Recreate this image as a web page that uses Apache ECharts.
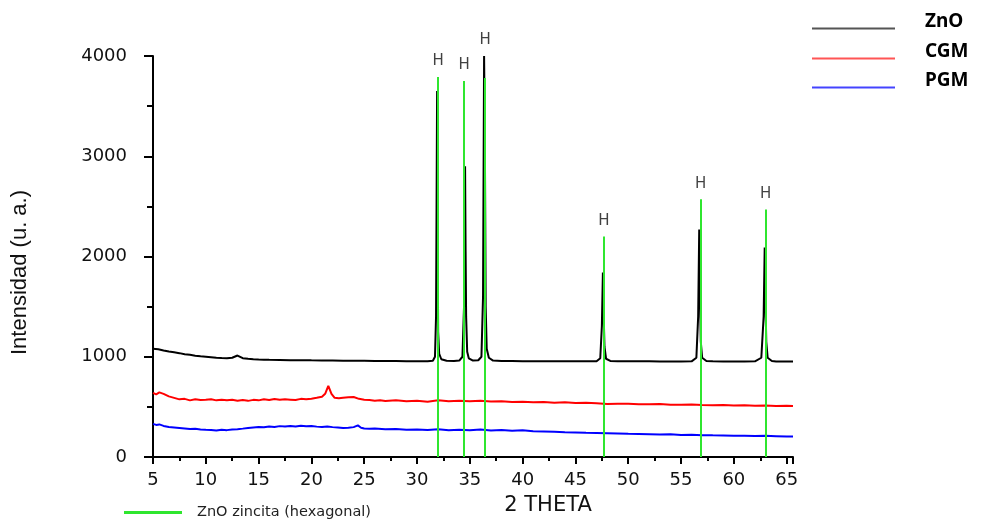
<!DOCTYPE html>
<html>
<head>
<meta charset="utf-8">
<title>DRX ZnO / CGM / PGM</title>
<script src="https://cdn.jsdelivr.net/npm/echarts@6/dist/echarts.min.js"></script>
</head>
<body style="margin:0;background:#fff">
<div id="main" style="width:984px;height:527px;"></div>
<script type="text/javascript">
// 2 theta, intensidad
var zno = [
 [5,1080],[5.5,1075],[6,1062],[6.5,1052],[7,1044],[7.5,1036],[8,1026],[8.5,1019],[9,1011],[9.5,1004],
 [10,1001],[10.5,996],[11,991],[11.5,987],[12,985],[12.5,990],[13,1012],[13.5,986],[14,979],[14.5,975],
 [15,972],[15.5,971],[16,969],[17,968],[18,966],[19,966],[20,964],[21,963],[22,962],[23,961],
 [24,960],[25,959],[26,958],[27,958],[28,957],[29,956],[30,956],[31,956],[31.5,960],[31.7,1000],
 [31.8,1400],[31.85,2500],[31.9,3650],[31.95,2300],[32.0,1250],[32.1,1030],[32.3,975],[32.8,960],[33.5,958],[34.0,962],
 [34.3,1000],[34.45,1500],[34.55,2900],[34.6,2050],[34.65,1400],[34.75,1050],[34.9,985],[35.3,962],[35.8,965],[36.1,1000],
 [36.25,1600],[36.35,4000],[36.42,3230],[36.5,1500],[36.6,1080],[36.8,990],[37.2,962],[38,958],[39,957],[40,956],
 [41,955],[42,955],[43,955],[44,954],[45,954],[46,954],[47,955],[47.35,985],[47.5,1300],[47.6,1840],
 [47.68,1390],[47.75,1100],[47.9,980],[48.3,958],[49,955],[50,955],[51,954],[52,956],[53,953],[54,953],
 [55,953],[56,954],[56.45,990],[56.62,1400],[56.72,2270],[56.8,1600],[56.87,1150],[57.0,990],[57.4,958],[58,954],
 [59,953],[60,953],[61,953],[62,954],[62.6,990],[62.82,1400],[62.92,2090],[63.0,1520],[63.07,1150],[63.2,990],
 [63.6,958],[64,953],[65,952],[65.6,952]
];
var cgm = [
 [5,640],[5.3,625],[5.6,645],[6,630],[6.5,605],[7,590],[7.5,575],[8,580],[8.5,565],[9,575],
 [9.5,568],[10,570],[10.5,575],[11,565],[11.5,572],[12,566],[12.5,570],[13,562],[13.5,568],[14,560],
 [14.5,570],[15,565],[15.5,575],[16,568],[16.5,578],[17,570],[17.5,575],[18,572],[18.5,568],[19,580],
 [19.5,575],[20,582],[20.5,590],[21,600],[21.3,630],[21.6,710],[21.9,630],[22.2,590],[22.6,585],[23,590],
 [23.5,595],[24,598],[24.5,580],[25,572],[25.5,568],[26,562],[26.5,566],[27,558],[28,565],[29,556],
 [30,560],[31,552],[32,565],[33,556],[34,560],[35,555],[36,562],[37,553],[38,556],[39,548],
 [40,552],[41,545],[42,548],[43,540],[44,545],[45,538],[46,540],[47,535],[48,528],[49,532],
 [50,530],[51,527],[52,525],[53,528],[54,522],[55,520],[56,523],[57,518],[58,515],[59,518],
 [60,513],[61,515],[62,510],[63,514],[64,508],[65,510],[65.6,508]
];
var pgm = [
 [5,330],[5.3,320],[5.6,325],[6,310],[6.5,300],[7,295],[7.5,290],[8,285],[8.5,280],[9,282],
 [9.5,275],[10,272],[10.5,270],[11,265],[11.5,272],[12,268],[12.5,275],[13,278],[13.5,283],[14,290],
 [14.5,295],[15,300],[15.5,296],[16,305],[16.5,300],[17,308],[17.5,304],[18,310],[18.5,305],[19,312],
 [19.5,306],[20,310],[20.5,303],[21,300],[21.5,305],[22,298],[22.5,295],[23,290],[23.5,292],[24,298],
 [24.4,315],[24.7,292],[25,285],[25.5,282],[26,285],[27,278],[28,280],[29,272],[30,275],[31,270],
 [32,276],[33,268],[34,272],[35,268],[36,275],[37,265],[38,270],[39,262],[40,266],[41,258],
 [42,255],[43,252],[44,248],[45,245],[46,242],[47,240],[48,238],[49,235],[50,232],[51,230],
 [52,228],[53,225],[54,226],[55,220],[56,222],[57,218],[58,216],[59,215],[60,213],[61,212],
 [62,210],[63,211],[64,208],[65,205],[65.6,205]
];
// ZnO zincita (hexagonal) reference lines
var refPos = [32.0, 34.45, 36.45, 47.7, 56.85, 63.0];
var refTop = [3790, 3750, 3780, 2200, 2570, 2470];

var seriesNames = ['ZnO', 'CGM', 'PGM'];
var refName = 'ZnO zincita (hexagonal)';
var colors = ['#000000', '#ff0000', '#0000ff'];
var legendColors = ['#555555', '#ff5555', '#4444ff'];
var green = '#2fe62f';

// "H" marks sit above the reference line or the ZnO peak, whichever is higher
var hMarks = refPos.map(function (p, i) {
    var top = refTop[i];
    zno.forEach(function (d) {
        if (Math.abs(d[0] - p) < 0.5 && d[1] > top) top = d[1];
    });
    return [p, top];
});

var myChart = echarts.init(document.getElementById('main'));

// legend line drawn below the text middle (tiny dot keeps the box height)
var lowLine = 'path://M0,0h0.01v0.01h-0.01z M0,14h83v2h-83z';
var legendTops = [7, 37, 66];

var legends = seriesNames.map(function (n, i) {
    return {
        data: [{name: n, itemStyle: {color: legendColors[i]}}],
        left: 807,
        top: legendTops[i],
        icon: lowLine,
        itemWidth: 83,
        itemHeight: 16,
        textStyle: {
            fontFamily: 'Noto Sans',
            fontWeight: 'bold',
            fontSize: 19,
            color: '#000',
            padding: [0, 0, 0, 25]
        }
    };
});
legends.push({
    data: [refName],
    left: 119,
    top: 500,
    icon: 'rect',
    itemWidth: 58,
    itemHeight: 3,
    textStyle: {
        fontFamily: 'DejaVu Sans',
        fontSize: 14.5,
        color: '#222',
        padding: [0, 0, 0, 10]
    }
});

var option = {
    animation: false,
    color: colors,
    legend: legends,
    grid: {
        left: 153,
        right: 191,
        top: 56,
        bottom: 70
    },
    xAxis: {
        type: 'value',
        min: 5,
        max: 65.6,
        interval: 5,
        name: '2 THETA',
        nameLocation: 'middle',
        nameGap: 38,
        nameTextStyle: {
            fontFamily: 'DejaVu Sans',
            fontSize: 21,
            color: '#111',
            padding: [0, 0, 0, 150]
        },
        splitLine: {show: false},
        axisLine: {onZero: false, lineStyle: {color: '#000', width: 2}},
        axisTick: {length: 7, lineStyle: {width: 2}},
        minorTick: {show: true, splitNumber: 2, length: 4, lineStyle: {color: '#000', width: 2}},
        axisLabel: {
            showMaxLabel: false,
            margin: 14,
            fontFamily: 'DejaVu Sans',
            fontSize: 18,
            color: '#111'
        }
    },
    yAxis: {
        type: 'value',
        min: 0,
        max: 4000,
        interval: 1000,
        name: 'Intensidad (u. a.)',
        nameLocation: 'middle',
        nameGap: 122,
        nameTextStyle: {
            fontFamily: 'Liberation Sans',
            fontSize: 22,
            color: '#111',
            padding: [0, 32, 0, 0]
        },
        splitLine: {show: false},
        axisLine: {show: true, lineStyle: {color: '#000', width: 2}},
        axisTick: {show: true, length: 9, lineStyle: {width: 2}},
        minorTick: {show: true, splitNumber: 2, length: 6, lineStyle: {color: '#000', width: 2}},
        axisLabel: {
            margin: 26,
            fontFamily: 'DejaVu Sans',
            fontSize: 18,
            color: '#111',
            formatter: function (v) { return String(v); }
        }
    },
    series: [
        {
            name: seriesNames[0],
            type: 'line',
            data: zno,
            symbol: 'none',
            lineStyle: {color: colors[0], width: 2}
        },
        {
            name: seriesNames[1],
            type: 'line',
            data: cgm,
            symbol: 'none',
            lineStyle: {color: colors[1], width: 2}
        },
        {
            name: seriesNames[2],
            type: 'line',
            data: pgm,
            symbol: 'none',
            lineStyle: {color: colors[2], width: 2}
        },
        {
            name: refName,
            type: 'line',
            data: [],
            color: green,
            lineStyle: {color: green},
            markLine: {
                silent: true,
                symbol: ['none', 'none'],
                label: {show: false},
                lineStyle: {color: green, width: 2, type: 'solid'},
                data: refPos.map(function (p, i) {
                    return [{coord: [p, 0]}, {coord: [p, refTop[i]]}];
                })
            }
        },
        {
            name: 'H',
            type: 'scatter',
            data: hMarks,
            symbolSize: 0,
            silent: true,
            label: {
                show: true,
                position: 'top',
                distance: 8,
                formatter: 'H',
                fontFamily: 'DejaVu Sans',
                fontSize: 15,
                color: '#111'
            }
        }
    ]
};

myChart.setOption(option);
</script>
</body>
</html>
